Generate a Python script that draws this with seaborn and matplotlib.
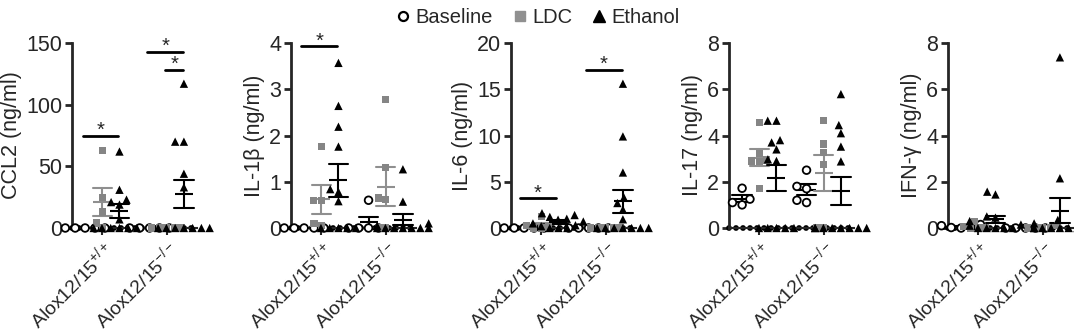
import warnings
import numpy as np
import pandas as pd
import seaborn as sns

import matplotlib
import matplotlib.pyplot as plt
from matplotlib.lines import Line2D

warnings.filterwarnings('ignore')

# 基因型 / 处理组
genotypes = ['Alox12/15+/+', 'Alox12/15-/-']
genotype_labels = [r'Alox12/15$^{+/+}$', r'Alox12/15$^{-/-}$']
treatments = ['Baseline', 'LDC', 'Ethanol']

# CCL2 (ng/ml)
ccl2_base_wt = [0, 0, 0, 0, 0]
ccl2_ldc_wt = [63, 25, 13, 4, 0]
ccl2_eth_wt = [62, 31, 23, 21, 19, 7, 0, 0, 0, 0, 0, 0]
ccl2_base_ko = [0, 0, 0, 0, 0]
ccl2_ldc_ko = [0, 0, 0, 0, 0]
ccl2_eth_ko = [117, 70, 70, 44, 33, 0, 0, 0, 0, 0, 0, 0]

# IL-1b (ng/ml)
il1b_base_wt = [0, 0, 0, 0, 0]
il1b_ldc_wt = [1.76, 0.6, 0.6, 0.09, 0.05]
il1b_eth_wt = [3.57, 2.64, 2.19, 1.76, 0.84, 0.78, 0.58, 0, 0, 0, 0, 0]
il1b_base_ko = [0.6, 0, 0, 0, 0]
il1b_ldc_ko = [2.78, 1.3, 0.65, 0.62, 0, 0]
il1b_eth_ko = [1.27, 0.57, 0.1, 0.05, 0, 0, 0, 0, 0, 0, 0]

# IL-6 (ng/ml)
il6_base_wt = [0, 0, 0, 0, 0]
il6_ldc_wt = [1.25, 0.3, 0.1, 0, 0]
il6_eth_wt = [1.6, 1.4, 1.2, 1.0, 0.9, 0.7, 0.5, 0.3, 0.2, 0, 0, 0]
il6_base_ko = [0, 0, 0, 0, 0]
il6_ldc_ko = [0, 0, 0, 0, 0]
il6_eth_ko = [15.6, 9.9, 6.0, 3.3, 2.7, 2.0, 0.94, 0, 0, 0, 0, 0, 0, 0]

# IL-17 (ng/ml)
il17_base_wt = [1.72, 1.25, 1.0, 1.1]
il17_ldc_wt = [4.55, 3.23, 2.94, 2.9, 2.87, 1.72]
il17_eth_wt = [4.64, 4.64, 3.8, 3.7, 3.4, 2.97, 2.9, 0, 0, 0, 0, 0]
il17_base_ko = [2.5, 1.8, 1.7, 1.2, 1.1]
il17_ldc_ko = [4.64, 3.63, 3.27, 2.74, 0, 0]
il17_eth_ko = [5.79, 4.45, 4.1, 3.52, 2.88, 0, 0, 0, 0, 0, 0, 0, 0]

# IFN-g (ng/ml)
ifng_base_wt = [0.15, 0.1, 0.05, 0.02, 0]
ifng_ldc_wt = [0.27, 0.05, 0, 0, 0]
ifng_eth_wt = [1.57, 1.45, 0.5, 0.45, 0.3, 0.15, 0.1, 0, 0, 0, 0, 0]
ifng_base_ko = [0, 0, 0, 0, 0]
ifng_ldc_ko = [0.12, 0, 0, 0, 0]
ifng_eth_ko = [7.38, 2.15, 0.35, 0.3, 0.2, 0.1, 0, 0, 0, 0, 0, 0, 0, 0]

# 统一风格
font_size = 15.5
tick_label_size = 14
point_colors = {'Baseline': 'white', 'LDC': '#858585', 'Ethanol': 'black'}
err_colors = {'Baseline': 'black', 'LDC': '#8f8f8f', 'Ethanol': 'black'}

sns.set_theme(style='ticks')
plt.rcParams['font.family'] = ['Liberation Sans', 'DejaVu Sans']
plt.rcParams['mathtext.fontset'] = 'custom'
plt.rcParams['mathtext.rm'] = 'Liberation Sans'
plt.rcParams['mathtext.it'] = 'Liberation Sans:italic'
plt.rcParams['mathtext.bf'] = 'Liberation Sans:bold'


def make_df(groups):
    rows = []
    for geno, sets in zip(genotypes, groups):
        for treat, vals in zip(treatments, sets):
            for v in vals:
                rows.append({'genotype': geno, 'treatment': treat, 'value': v})
    return pd.DataFrame(rows)


panels = [
    ('CCL2 (ng/ml)', [0, 50, 100, 150],
     [(ccl2_base_wt, ccl2_ldc_wt, ccl2_eth_wt), (ccl2_base_ko, ccl2_ldc_ko, ccl2_eth_ko)],
     [(-0.30, 0.25, 75), (0.69, 1.26, 143), (0.97, 1.26, 128)]),
    ('IL-1β (ng/ml)', [0, 1, 2, 3, 4],
     [(il1b_base_wt, il1b_ldc_wt, il1b_eth_wt), (il1b_base_ko, il1b_ldc_ko, il1b_eth_ko)],
     [(-0.31, 0.25, 3.93)]),
    ('IL-6 (ng/ml)', [0, 5, 10, 15, 20],
     [(il6_base_wt, il6_ldc_wt, il6_eth_wt), (il6_base_ko, il6_ldc_ko, il6_eth_ko)],
     [(-0.33, 0.23, 3.2), (0.69, 1.25, 17.1)]),
    ('IL-17 (ng/ml)', [0, 2, 4, 6, 8],
     [(il17_base_wt, il17_ldc_wt, il17_eth_wt), (il17_base_ko, il17_ldc_ko, il17_eth_ko)],
     []),
    ('IFN-γ (ng/ml)', [0, 2, 4, 6, 8],
     [(ifng_base_wt, ifng_ldc_wt, ifng_eth_wt), (ifng_base_ko, ifng_ldc_ko, ifng_eth_ko)],
     []),
]

fig = plt.figure(figsize=(10.74, 3.33), dpi=100)
lefts = [72, 291, 511, 729, 948]

for left, (ylabel, yticks, groups, sigbars) in zip(lefts, panels):
    ax = fig.add_axes([left / 1074, 1 - 228 / 333, 125 / 1074, 185 / 333])
    df = make_df(groups)

    # 均值 ± SEM
    sns.pointplot(data=df, x='genotype', y='value', hue='treatment',
                  order=genotypes, hue_order=treatments, dodge=0.5333,
                  errorbar=('se', 1), capsize=0.3, markers='_',
                  linestyle='none', palette=err_colors, markersize=13,
                  markeredgewidth=1.5, err_kws={'linewidth': 1.5},
                  legend=False, ax=ax)

    # 散点
    n_before = len(ax.collections)
    for treat, marker, size, edge, lw in [('Baseline', 'o', 5.5, 'black', 1.3),
                                          ('LDC', 's', 5.2, '#858585', 0),
                                          ('Ethanol', '^', 6, 'black', 0)]:
        sub = df[df['treatment'] == treat]
        sns.swarmplot(data=sub, x='genotype', y='value', hue='treatment',
                      order=genotypes, hue_order=treatments, dodge=True,
                      palette=point_colors, marker=marker, size=size,
                      edgecolor=edge, linewidth=lw, legend=False, ax=ax,
                      zorder=3)
    # 零值点不被裁切（空集合保持裁切，避免角落残影）
    for coll in ax.collections[n_before:]:
        if len(coll.get_offsets()) > 0:
            coll.set_clip_on(False)

    # 显著性标记
    for x0, x1, y in sigbars:
        ax.plot([x0, x1], [y, y], color='black', lw=2, clip_on=False)
        ax.annotate('*', xy=((x0 + x1) / 2, y), xytext=(0, -3),
                    textcoords='offset points', ha='center', va='bottom',
                    fontsize=font_size - 1, annotation_clip=False)

    # 带点的x轴
    ax.axhline(0, color='black', lw=4.2, ls=(0, (0.001, 1.2)),
               dash_capstyle='round', zorder=2.5, clip_on=False)

    ax.set_xlim(-0.47, 1.47)
    ax.set_ylim(0, yticks[-1])
    ax.set_yticks(yticks)
    ax.set_xticks([0, 1])
    ax.set_xticklabels(genotype_labels, rotation=45, ha='right',
                       rotation_mode='anchor', fontsize=tick_label_size)
    ax.set_xlabel('')
    ax.set_ylabel(ylabel, fontsize=font_size, labelpad=3)
    ax.tick_params(axis='y', labelsize=font_size, length=5, width=2, pad=2)
    ax.tick_params(axis='x', length=5, width=1.5, pad=2)
    ax.spines['left'].set_linewidth(2)
    ax.spines['bottom'].set_linewidth(1.5)
    ax.spines['right'].set_visible(False)
    ax.spines['top'].set_visible(False)
    ax.set_facecolor('none')

# 图例
handles = [
    Line2D([], [], marker='o', ls='', mfc='white', mec='black', mew=1.6, ms=6.5),
    Line2D([], [], marker='s', ls='', mfc='#909090', mec='#909090', ms=7),
    Line2D([], [], marker='^', ls='', mfc='black', mec='black', ms=8),
]
fig.legend(handles, treatments, loc='upper center', bbox_to_anchor=(0.5, 1.03),
           ncol=3, frameon=False, fontsize=font_size - 1, handletextpad=0.15,
           columnspacing=0.9, handlelength=0.9)

plt.savefig('out.png', dpi=100, facecolor='white')
plt.close()
